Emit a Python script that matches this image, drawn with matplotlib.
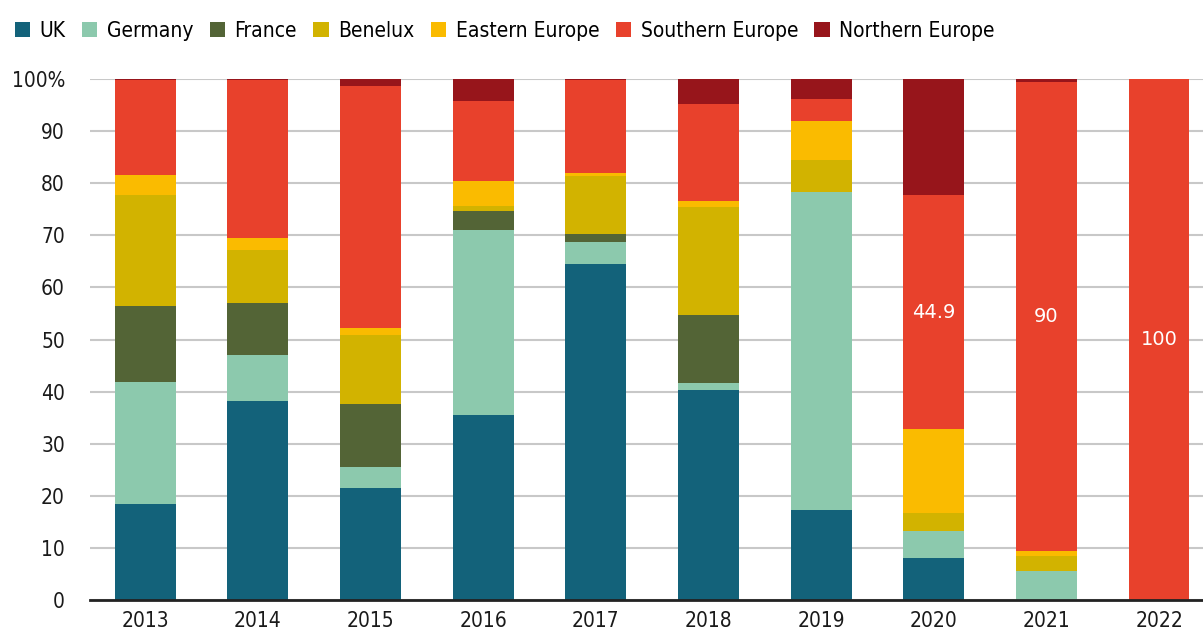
import numpy as np
import matplotlib.pyplot as plt

years = ["2013", "2014", "2015", "2016", "2017", "2018", "2019", "2020", "2021", "2022"]
uk = [18.4, 38.2, 21.5, 35.6, 64.4, 40.4, 17.2, 8.0, 0, 0]
germany = [23.5, 8.8, 4.0, 35.5, 4.4, 1.3, 61.1, 5.3, 5.5, 0]
france = [14.6, 10.1, 12.1, 3.5, 1.4, 13.0, 0, 0, 0, 0]
benelux = [21.2, 10.0, 13.3, 1.1, 11.1, 20.8, 6.1, 3.4, 2.9, 0]
eastern = [3.8, 2.3, 1.3, 4.7, 0.6, 1.0, 7.5, 16.1, 1.0, 0]
southern = [18.4, 30.5, 46.5, 15.4, 17.9, 18.7, 4.3, 44.9, 90, 100]
northern = [0.1, 0.1, 1.3, 4.2, 0.2, 4.8, 3.8, 22.3, 0.6, 0]

series = [
    ("UK", uk, "#13627a"),
    ("Germany", germany, "#8cc9ad"),
    ("France", france, "#536436"),
    ("Benelux", benelux, "#d2b300"),
    ("Eastern Europe", eastern, "#fabb00"),
    ("Southern Europe", southern, "#e8412c"),
    ("Northern Europe", northern, "#97151b"),
]
labelled = {7: "44.9", 8: "90", 9: "100"}

plt.rcParams["font.family"] = ["DejaVu Sans"]
plt.rcParams["font.stretch"] = "condensed"

fig = plt.figure(figsize=(12.03, 6.35), dpi=100)
ax = fig.add_axes([90 / 1203, 35 / 635, 1113 / 1203, 521 / 635])

x = np.arange(len(years))
bottom = np.zeros(len(years))
for name, vals, col in series:
    vals = np.array(vals, dtype=float)
    ax.bar(x, vals, 0.54, bottom=bottom, color=col, label=name, zorder=3)
    if name == "Southern Europe":
        for i, txt in labelled.items():
            ax.text(x[i], bottom[i] + vals[i] / 2, txt, color="white",
                    ha="center", va="center", fontsize=14, fontstretch="normal",
                    zorder=4)
    bottom += vals

ax.set_ylim(0, 100)
ax.set_xlim(-0.49, 9.39)
ax.set_yticks(range(0, 101, 10))
ax.set_yticklabels([str(v) for v in range(0, 100, 10)] + ["100%"])
ax.set_xticks(x)
ax.set_xticklabels(years)
ax.tick_params(length=0, labelsize=15, colors="#1a1a1a")
ax.tick_params(axis="y", pad=18)
ax.tick_params(axis="x", pad=8)
ax.grid(axis="y", color="#c8c8c8", linewidth=1.5, zorder=0)
for s in ["top", "right", "left"]:
    ax.spines[s].set_visible(False)
ax.spines["bottom"].set_color("#222222")
ax.spines["bottom"].set_linewidth(2)
ax.spines["bottom"].set_zorder(5)

fig.legend(loc="upper left", bbox_to_anchor=(0.0, 0.99), ncol=7, frameon=False,
           fontsize=15, handlelength=0.75, handleheight=0.75, handletextpad=0.45,
           columnspacing=0.78, borderaxespad=0.3)

plt.savefig("out.png", dpi=100)
